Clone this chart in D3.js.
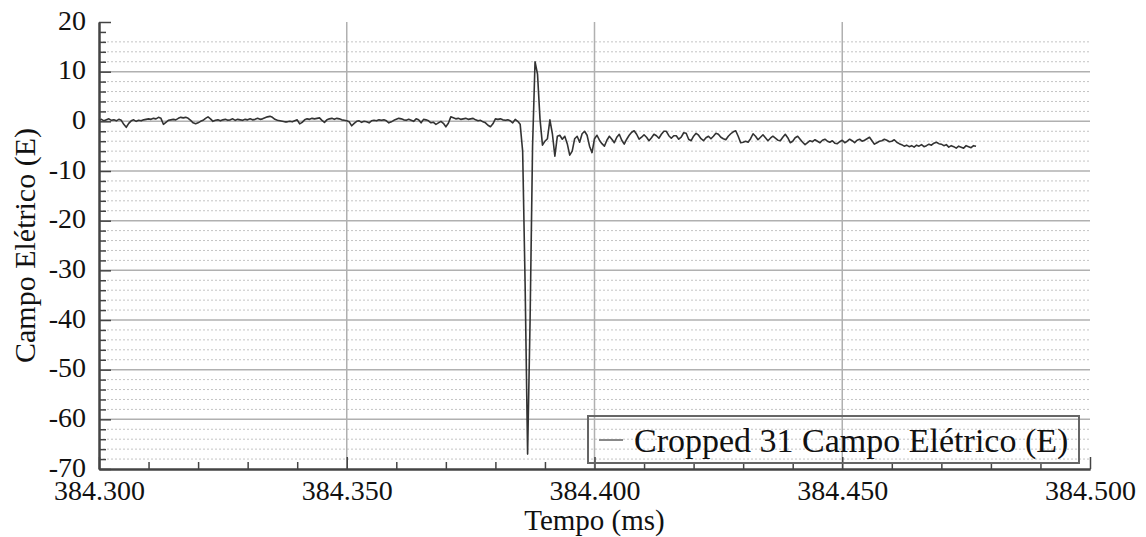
<!DOCTYPE html>
<html>
<head>
<meta charset="utf-8">
<script src="https://cdn.jsdelivr.net/npm/d3@7"></script>
<style>
  html, body { margin: 0; padding: 0; background: #fff; }
  svg { display: block; }
  text { font-family: "Liberation Serif", "Times New Roman", serif; fill: #111; }
</style>
</head>
<body>
<svg id="chart" width="1146" height="537"></svg>
<script>
// ---- data ----
const seriesName = "Cropped 31 Campo Elétrico (E)";
const xTitle = "Tempo (ms)";
const yTitle = "Campo Elétrico (E)";
const xMajorTicks = [384.300, 384.350, 384.400, 384.450, 384.500];
const yMajorTicks = [-70, -60, -50, -40, -30, -20, -10, 0, 10, 20];
const xGridValues = [384.350, 384.400, 384.450];
const yGridValues = [-60, -50, -40, -30, -20, -10, 0, 10];
const startTime = 384.300;   // ms, first sample
const sampleStep = 0.0005;   // ms between samples
const fieldValues = [
  0.2,0.4,0.1,0.3,0.5,0.2,0.3,0.1,0.4,0.2,-0.6,-1.2,-0.4,0.1,0.3,0.0,0.2,0.1,0.3,0.4,
  0.5,0.4,0.6,0.5,0.8,0.6,-0.6,-0.2,0.2,0.3,0.4,0.3,0.6,0.8,0.7,0.8,0.6,0.2,-0.3,-0.5,
  -0.3,0.0,0.2,0.6,0.9,0.5,0.0,0.2,0.3,0.1,0.3,0.4,0.2,0.3,0.5,0.2,0.4,0.3,0.2,0.4,
  0.3,0.5,0.3,0.4,0.6,0.4,0.5,0.7,0.9,1.0,0.8,0.4,0.2,0.1,0.0,-0.1,-0.1,0.0,-0.1,0.1,
  0.3,-0.5,-0.2,0.3,0.5,0.4,0.6,0.5,0.6,0.7,0.2,-0.2,0.3,0.5,0.6,0.4,0.6,0.5,0.3,0.2,
  0.1,-0.1,-0.9,-0.4,0.0,0.1,-0.2,0.0,-0.1,-0.3,0.1,0.2,0.1,0.3,0.2,0.3,0.1,-0.3,-0.1,0.2,
  0.4,0.6,0.5,0.3,0.2,0.4,0.2,0.0,0.5,0.3,-0.3,0.4,0.3,0.1,-0.3,-0.2,-0.6,-0.3,0.0,-0.4,
  -1.1,-0.4,0.9,0.7,0.5,0.6,0.4,0.5,0.6,0.4,0.5,0.6,0.3,0.1,0.2,-0.1,-0.3,-0.8,-1.1,-0.5,
  0.5,0.4,0.5,0.3,0.2,0.3,0.1,-0.3,0.4,0.0,-0.6,-6.0,-33.0,-67.0,-40.0,-5.0,12.0,9.5,0.5,-4.8,
  -4.0,-3.5,0.3,-2.5,-7.0,-3.0,-2.8,-3.6,-3.0,-4.5,-6.8,-6.0,-3.5,-3.0,-4.2,-2.5,-2.0,-2.8,-5.0,-6.3,
  -3.5,-2.8,-3.8,-4.5,-5.0,-3.8,-3.0,-3.6,-4.3,-3.2,-2.6,-3.8,-4.6,-3.6,-2.8,-2.2,-1.9,-2.6,-3.6,-3.2,
  -2.7,-3.2,-3.9,-3.3,-2.6,-2.9,-3.4,-2.6,-2.0,-2.0,-2.9,-3.4,-2.9,-2.9,-3.6,-3.2,-2.3,-2.4,-3.6,-3.9,
  -3.0,-2.4,-2.8,-3.5,-3.9,-3.3,-3.0,-3.5,-3.0,-2.4,-2.6,-3.2,-3.5,-3.7,-3.0,-2.5,-2.1,-1.9,-3.0,-4.3,
  -4.2,-4.0,-4.2,-3.5,-2.5,-3.0,-3.7,-3.2,-2.7,-3.3,-3.9,-3.4,-3.0,-3.4,-3.8,-3.9,-3.2,-2.6,-3.3,-4.3,
  -4.0,-3.3,-3.0,-3.6,-4.2,-4.7,-4.3,-3.9,-4.1,-3.7,-4.0,-4.3,-3.8,-3.6,-4.0,-4.2,-3.9,-4.4,-4.5,-4.1,
  -3.8,-4.3,-4.0,-3.6,-3.9,-4.3,-3.8,-3.6,-4.0,-3.8,-3.5,-3.2,-3.9,-4.6,-4.3,-4.0,-3.9,-3.6,-3.8,-4.1,
  -4.0,-3.7,-4.2,-4.5,-4.7,-5.0,-4.8,-5.1,-4.9,-5.2,-4.8,-5.0,-4.7,-5.1,-4.9,-4.6,-4.8,-4.4,-4.2,-4.5,
  -4.6,-4.9,-4.7,-5.2,-4.9,-5.1,-5.4,-5.0,-5.2,-5.4,-4.9,-5.1,-5.3,-4.9,-5.0
];

// ---- layout ----
const svg = d3.select("#chart");
const plot = { left: 99, right: 1090, top: 22, bottom: 469 };
const x = d3.scaleLinear().domain([384.300, 384.500]).range([plot.left, plot.right]);
const y = d3.scaleLinear().domain([-70, 20]).range([plot.bottom, plot.top]);

const xMinorTicks = d3.range(0, 21).map(i => 384.300 + i * 0.01).filter(v => !xMajorTicks.some(m => Math.abs(m - v) < 1e-9));
const yMinorTicks = d3.range(-70, 21, 2).filter(v => v % 10 !== 0);
const yDottedGrid = yMinorTicks.filter(v => v <= 16);

// dotted minor horizontal grid
svg.append("g").selectAll("line").data(yDottedGrid).join("line")
  .attr("x1", plot.left).attr("x2", plot.right)
  .attr("y1", d => y(d)).attr("y2", d => y(d))
  .attr("stroke", "#c4c4c4").attr("stroke-width", 1).attr("stroke-dasharray", "2,2");

// solid major grid
svg.append("g").selectAll("line").data(yGridValues).join("line")
  .attr("x1", plot.left).attr("x2", plot.right)
  .attr("y1", d => y(d)).attr("y2", d => y(d))
  .attr("stroke", "#b0b0b0").attr("stroke-width", 1.5);
svg.append("g").selectAll("line").data(xGridValues).join("line")
  .attr("x1", d => x(d)).attr("x2", d => x(d))
  .attr("y1", plot.top).attr("y2", plot.bottom)
  .attr("stroke", "#b0b0b0").attr("stroke-width", 1.5);

// series
const points = fieldValues.map((v, i) => [startTime + i * sampleStep, v]);
svg.append("path").datum(points)
  .attr("fill", "none").attr("stroke", "#333").attr("stroke-width", 1.6)
  .attr("stroke-linejoin", "round")
  .attr("d", d3.line().x(d => x(d[0])).y(d => y(d[1])));

// axes
function styleAxis(g) {
  g.select(".domain").attr("stroke", "#444").attr("stroke-width", 2);
  g.selectAll(".tick line").attr("stroke", "#444").attr("stroke-width", 1.5);
  g.selectAll("text").attr("font-family", "Liberation Serif, serif").attr("font-size", 28).attr("fill", "#111");
}
svg.append("g").attr("transform", `translate(${plot.left},0)`)
  .call(d3.axisLeft(y).tickValues(yMinorTicks).tickSizeInner(-7).tickSizeOuter(0).tickFormat(""))
  .call(styleAxis);
svg.append("g").attr("transform", `translate(${plot.left},0)`)
  .call(d3.axisLeft(y).tickValues(yMajorTicks).tickSizeInner(-12).tickSizeOuter(0).tickPadding(13).tickFormat(d => String(d)))
  .call(styleAxis)
  .selectAll("text").attr("dy", "0.26em");
svg.append("g").attr("transform", `translate(0,${plot.bottom})`)
  .call(d3.axisBottom(x).tickValues(xMinorTicks).tickSizeInner(-7).tickSizeOuter(0).tickFormat(""))
  .call(styleAxis);
svg.append("g").attr("transform", `translate(0,${plot.bottom})`)
  .call(d3.axisBottom(x).tickValues(xMajorTicks).tickSizeInner(-12).tickSizeOuter(0).tickPadding(13).tickFormat(d3.format(".3f")))
  .call(styleAxis)
  .selectAll("text").attr("dy", "0.66em");

// axis titles
svg.append("text").attr("x", (plot.left + plot.right) / 2).attr("y", 530)
  .attr("text-anchor", "middle").attr("font-size", 29).text(xTitle);
svg.append("text").attr("transform", `translate(35,${(plot.top + plot.bottom) / 2}) rotate(-90)`)
  .attr("text-anchor", "middle").attr("font-size", 30).text(yTitle);

// legend
const lg = svg.append("g");
lg.append("rect").attr("x", 588).attr("y", 416).attr("width", 491).attr("height", 47)
  .attr("fill", "none").attr("stroke", "#666").attr("stroke-width", 2);
lg.append("line").attr("x1", 599).attr("x2", 623).attr("y1", 440).attr("y2", 440)
  .attr("stroke", "#888").attr("stroke-width", 2);
lg.append("text").attr("x", 634).attr("y", 452).attr("font-size", 34).text(seriesName);
</script>
</body>
</html>
